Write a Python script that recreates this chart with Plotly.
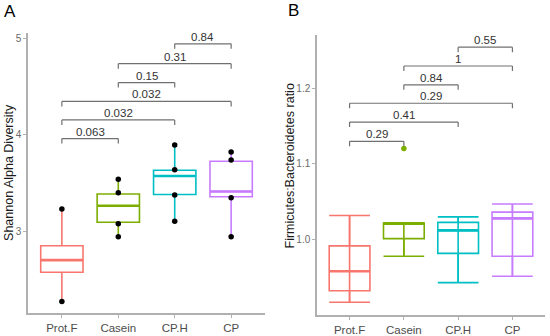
import plotly.graph_objects as go

groups = ["Prot.F", "Casein", "CP.H", "CP"]
colors = ["#F8766D", "#7CAE00", "#00BFC4", "#C77CFF"]

# Panel A: Shannon alpha diversity
a_q1 = [2.574, 3.093, 3.381, 3.358]
a_med = [2.700, 3.265, 3.574, 3.412]
a_q3 = [2.850, 3.386, 3.633, 3.726]
a_lo = [2.270, 2.945, 3.103, 2.945]
a_hi = [3.230, 3.540, 3.887, 3.810]
a_pts_group = [0, 0, 1, 1, 1, 1, 2, 2, 2, 2, 3, 3, 3, 3]
a_pts_val = [3.23, 2.27, 3.54, 3.399, 3.079, 2.942, 3.894, 3.639, 3.375, 3.103,
             3.822, 3.739, 3.347, 2.942]
a_pairs = [(0, 1), (0, 2), (0, 3), (1, 2), (1, 3), (2, 3)]
a_pvals = ["0.063", "0.032", "0.032", "0.15", "0.31", "0.84"]
a_bracket_y = [3.962, 4.155, 4.347, 4.543, 4.739, 4.945]

# Panel B: Firmicutes:Bacteroidetes ratio
b_q1 = [0.9322, 1.0013, 0.9817, 0.9780]
b_med = [0.9580, 1.0210, 1.0122, 1.0280]
b_q3 = [0.9917, 1.0219, 1.0227, 1.0363]
b_lo = [0.9170, 0.9780, 0.9430, 0.9515]
b_hi = [1.0318, 1.0223, 1.0300, 1.0470]
b_out_group = [1]
b_out_val = [1.1206]
b_pairs = [(0, 1), (0, 2), (0, 3), (1, 2), (1, 3), (2, 3)]
b_pvals = ["0.29", "0.41", "0.29", "0.84", "1", "0.55"]
b_bracket_y = [1.130, 1.1554, 1.1803, 1.2047, 1.2296, 1.2545]

FONT = "Liberation Sans, Arial, sans-serif"
BOXW = 0.75
AXCOL = "#b0b0b0"

fig = go.Figure()
shapes = []
annotations = []

# black points (A), drawn under boxes
fig.add_trace(go.Scatter(
    x=[g + 1 for g in a_pts_group], y=a_pts_val, mode="markers",
    marker=dict(color="black", size=5.5), xaxis="x", yaxis="y",
    showlegend=False, hoverinfo="skip"))

for i, g in enumerate(groups):
    fig.add_trace(go.Box(
        x=[i + 1], q1=[a_q1[i]], median=[a_med[i]], q3=[a_q3[i]],
        lowerfence=[a_lo[i]], upperfence=[a_hi[i]], width=BOXW, whiskerwidth=0,
        line=dict(color=colors[i], width=1.6), fillcolor="rgba(255,255,255,0)",
        boxpoints=False, xaxis="x", yaxis="y", showlegend=False, hoverinfo="skip"))
    shapes.append(dict(type="line", xref="x", yref="y",
                       x0=i + 1 - BOXW / 2, x1=i + 1 + BOXW / 2,
                       y0=a_med[i], y1=a_med[i],
                       line=dict(color=colors[i], width=2.6)))

for i, g in enumerate(groups):
    fig.add_trace(go.Box(
        x=[i + 1], q1=[b_q1[i]], median=[b_med[i]], q3=[b_q3[i]],
        lowerfence=[b_lo[i]], upperfence=[b_hi[i]], width=BOXW, whiskerwidth=1,
        line=dict(color=colors[i], width=1.6), fillcolor="rgba(255,255,255,0)",
        boxpoints=False, xaxis="x2", yaxis="y2", showlegend=False, hoverinfo="skip"))
    shapes.append(dict(type="line", xref="x2", yref="y2",
                       x0=i + 1, x1=i + 1, y0=b_lo[i], y1=b_hi[i],
                       line=dict(color=colors[i], width=1.6)))
    shapes.append(dict(type="line", xref="x2", yref="y2",
                       x0=i + 1 - BOXW / 2, x1=i + 1 + BOXW / 2,
                       y0=b_med[i], y1=b_med[i],
                       line=dict(color=colors[i], width=2.6)))

fig.add_trace(go.Scatter(
    x=[g + 1 for g in b_out_group], y=b_out_val, mode="markers",
    marker=dict(color=[colors[g] for g in b_out_group], size=5.5),
    xaxis="x2", yaxis="y2", showlegend=False, hoverinfo="skip"))


def brackets(pairs, pvals, ys, xr, yr):
    for (a, b), p, y in zip(pairs, pvals, ys):
        shapes.append(dict(type="line", xref=xr, yref=yr, x0=a + 1, x1=b + 1,
                           y0=y, y1=y, line=dict(color="#707070", width=1.2)))
        for xx in (a + 1, b + 1):
            shapes.append(dict(type="line", xref=xr, yref=yr, ysizemode="pixel",
                               yanchor=y, x0=xx, x1=xx, y0=-5, y1=0,
                               line=dict(color="#707070", width=1.2)))
        annotations.append(dict(text=p, xref=xr, yref=yr, x=(a + b) / 2 + 1, y=y,
                                yanchor="bottom", showarrow=False, yshift=-1,
                                font=dict(size=11.5, color="#333333", family=FONT)))


brackets(a_pairs, a_pvals, a_bracket_y, "x", "y")
brackets(b_pairs, b_pvals, b_bracket_y, "x2", "y2")

annotations += [
    dict(text="A", xref="paper", yref="paper", x=10 / 550, y=1 - 12 / 336,
         xanchor="center", yanchor="middle",
         showarrow=False, font=dict(size=17, color="black", family=FONT)),
    dict(text="B", xref="paper", yref="paper", x=293 / 550, y=1 - 11 / 336,
         xanchor="center", yanchor="middle",
         showarrow=False, font=dict(size=17, color="black", family=FONT)),
    dict(text="Shannon Alpha Diversity", xref="paper", yref="paper", textangle=-90,
         x=9 / 550, y=1 - 174.5 / 336, xanchor="center", yanchor="middle",
         showarrow=False, font=dict(size=12.5, color="#1a1a1a", family=FONT)),
    dict(text="Firmicutes:Bacteroidetes ratio", xref="paper", yref="paper",
         textangle=-90, x=289 / 550, y=1 - 168 / 336, xanchor="center",
         yanchor="middle", showarrow=False,
         font=dict(size=12.5, color="#1a1a1a", family=FONT)),
]

xcommon = dict(range=[0.4, 4.6], tickvals=[1, 2, 3, 4], ticktext=groups,
               showline=True, linecolor=AXCOL, linewidth=1.5, ticks="outside",
               ticklen=3, tickcolor=AXCOL, showgrid=False, zeroline=False,
               tickfont=dict(size=11.5, color="#4d4d4d", family=FONT), fixedrange=True)
ycommon = dict(showline=True, linecolor=AXCOL, linewidth=1.5, ticks="outside",
               ticklen=3, tickcolor=AXCOL, showgrid=False, zeroline=False,
               tickfont=dict(size=10, color="#6a6a6a", family=FONT), fixedrange=True)

fig.update_layout(
    width=550, height=336, margin=dict(l=0, r=0, t=0, b=0),
    paper_bgcolor="white", plot_bgcolor="white",
    font=dict(family=FONT),
    xaxis=dict(domain=[28 / 550, 265 / 550], anchor="y", **xcommon),
    yaxis=dict(domain=[20 / 336, 303 / 336], anchor="x", range=[2.15, 5.06],
               tickvals=[3, 4, 5], ticktext=["3", "4", "5"], **ycommon),
    xaxis2=dict(domain=[317 / 550, 545 / 550], anchor="y2", **xcommon),
    yaxis2=dict(domain=[18 / 336, 301 / 336], anchor="x2", range=[0.9, 1.271],
                tickvals=[1.0, 1.1, 1.2], ticktext=["1.0", "1.1", "1.2"], **ycommon),
    shapes=shapes, annotations=annotations, showlegend=False,
)

fig.write_html("out.html", config={"displayModeBar": False},
               post_script="document.body.style.margin='0px';"
                           "document.body.style.overflow='hidden';")
